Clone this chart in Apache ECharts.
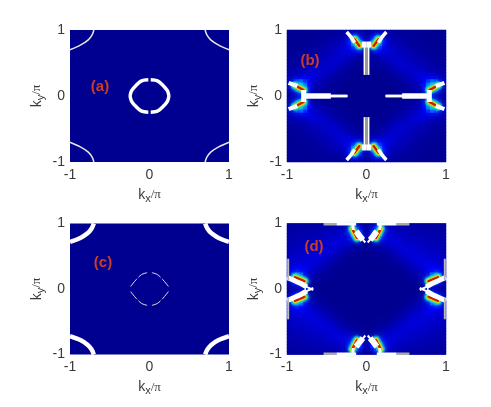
<!DOCTYPE html>
<html>
<head>
<meta charset="utf-8">
<style>html,body{margin:0;padding:0;background:#fff}#main{width:491px;height:407px}</style>
<script src="https://cdn.jsdelivr.net/npm/echarts@6/dist/echarts.min.js"></script>
</head>
<body>
<div id="main"></div>
<script>
const tickValues = [-1, 0, 1]
const cellCenters = [0.025, 0.075, 0.125, 0.175, 0.225, 0.275, 0.325, 0.375, 0.425, 0.475, 0.525, 0.575, 0.625, 0.675, 0.725, 0.775, 0.825, 0.875, 0.925, 0.975]
const panelLabels = ['(a)', '(b)', '(c)', '(d)']

// upper right quadrant, rows from ky=1 down to ky=0, columns from kx=0 to kx=1
const glowB = [
  [3,5,8,8,6,4,3,3,2,2,2,1,1,1,1,1,1,1,1,1],
  [4,10,17,16,9,6,4,3,3,2,2,2,1,1,1,1,1,1,1,1],
  [6,18,27,25,15,8,6,5,4,3,3,2,2,1,1,1,1,1,1,1],
  [8,24,32,30,20,11,8,6,5,4,3,3,2,2,1,1,1,1,1,1],
  [10,24,31,27,20,13,10,7,6,5,4,3,3,2,2,1,1,1,1,1],
  [7,18,24,22,18,14,11,9,7,6,5,4,3,3,2,2,1,1,1,1],
  [5,11,16,17,15,13,12,10,8,7,6,5,4,3,3,2,2,1,1,1],
  [3,6,9,11,12,12,12,11,9,8,7,6,5,4,3,3,2,2,1,1],
  [2,3,5,7,9,10,11,11,10,9,8,7,6,5,4,3,3,2,2,1],
  [1,2,3,4,6,8,10,11,11,10,9,8,7,6,5,4,3,3,2,2],
  [1,1,2,3,4,6,8,10,11,11,10,9,8,7,6,5,4,3,3,2],
  [0,1,1,2,3,4,6,8,10,11,11,10,9,9,8,6,5,4,4,3],
  [0,0,1,1,2,3,4,6,8,9,11,11,11,11,10,8,6,6,5,4],
  [0,0,0,1,1,2,3,4,6,7,9,11,12,13,13,12,11,9,7,5],
  [0,0,0,0,1,1,2,3,4,5,7,9,11,14,16,17,17,14,10,7],
  [0,0,0,0,0,1,1,2,3,4,5,7,9,12,17,23,27,24,15,9],
  [0,0,0,0,0,0,1,1,2,3,4,5,7,10,18,28,33,30,22,10],
  [0,0,0,0,0,0,0,1,1,2,3,4,5,8,18,28,33,30,20,8],
  [0,0,0,0,0,0,0,0,1,1,2,2,3,5,12,20,26,24,12,5],
  [0,0,0,0,0,0,0,0,0,1,1,1,2,3,6,10,15,13,8,4]
]
const glowD = [
  [3,6,10,10,8,6,5,5,4,4,4,4,3,3,3,3,3,3,3,3],
  [5,14,22,20,12,9,8,7,6,6,5,5,5,4,4,4,4,4,3,3],
  [6,22,31,29,18,12,10,9,8,7,7,6,6,5,5,5,4,4,4,4],
  [6,20,30,28,19,13,12,10,9,9,8,7,7,6,6,5,5,5,4,4],
  [4,13,20,20,16,14,13,12,11,10,9,8,8,7,7,6,6,5,5,5],
  [3,6,10,12,12,13,13,13,12,11,10,9,9,8,8,7,7,6,6,5],
  [2,3,5,7,9,11,12,13,13,12,11,11,10,9,9,8,7,7,6,6],
  [1,2,3,4,6,8,10,11,12,13,12,12,11,10,10,9,8,8,7,6],
  [1,1,2,3,4,5,7,9,11,12,13,13,12,11,11,10,9,9,8,7],
  [0,1,1,2,2,3,5,7,9,11,12,13,13,12,12,11,10,10,9,7],
  [0,0,1,1,1,2,3,5,7,9,11,12,13,13,13,12,11,11,10,8],
  [0,0,0,1,1,1,2,3,5,7,9,11,12,13,14,13,13,12,11,9],
  [0,0,0,0,0,1,1,2,3,5,7,9,11,12,14,15,15,14,13,10],
  [0,0,0,0,0,0,1,1,2,3,5,7,9,11,13,16,18,17,15,11],
  [0,0,0,0,0,0,0,1,1,2,3,5,7,9,12,16,20,21,18,12],
  [0,0,0,0,0,0,0,0,1,1,2,3,5,7,10,16,26,28,23,12],
  [0,0,0,0,0,0,0,0,0,1,1,2,3,5,9,19,30,32,26,12],
  [0,0,0,0,0,0,0,0,0,0,1,1,2,4,7,16,28,30,24,10],
  [0,0,0,0,0,0,0,0,0,0,0,1,1,2,4,9,18,20,14,6],
  [0,0,0,0,0,0,0,0,0,0,0,0,1,1,2,4,8,9,6,3]
]

// Fermi arcs, one quadrant each, mirrored into the other three
const cornerArcA = [[0.70,1],[0.72,0.93],[0.77,0.85],[0.87,0.77],[1,0.70]]
const ringA = [[0.015,0.245],[0.1,0.23],[0.17,0.16],[0.225,0.08],[0.245,0]]
const cornerArcC = [[0.70,1],[0.73,0.92],[0.78,0.85],[0.87,0.78],[1,0.72]]
const ringC = [[0.03,0.25],[0.1,0.22],[0.17,0.14],[0.25,0.02]]

const barB = [[0.024,0.32],[0.024,0.8]]
const barCoreB = [[0,0.32],[0,0.8]]
const capB = [[0,0.78],[0.06,0.78]]
const armTopB = [[0.15,0.81],[0.2,0.9],[0.25,0.97]]
const stemThinB = [[0.24,0],[0.5,0]]
const stemThickB = [[0.45,0],[0.79,0]]
const armSideB = [[0.79,0],[0.79,0.09]]
const armRightB = [[0.87,0.15],[0.98,0.2]]
const streakTopB = [[0.09,0.76],[0.15,0.86]]
const streakSideB = [[0.79,0.09],[0.9,0.16]]

const tipTopD = [[0.015,0.71],[0.05,0.76]]
const wedgeTopD = [[0.045,0.75],[0.08,0.8],[0.13,0.88]]
const tipSideD = [[0.67,-0.015],[0.76,0.035]]
const wedgeSideD = [[0.75,0.03],[0.84,0.09],[0.93,0.14],[1,0.18]]
const tickTopD = [[0.17,0.9],[0.17,1]]
const edgeTopD = [[0.13,0.99],[0.38,0.99]]
const edgeGrayD = [[0.38,0.99],[0.54,0.99]]
const edgeSideD = [[0.985,0.13],[0.985,0.46]]
const streakTopD = [[0.12,0.78],[0.18,0.92]]
const streakSideD = [[0.78,0.12],[0.9,0.18]]

const grids = [
  { left: 70, top: 30, width: 159, height: 132 },
  { left: 287, top: 30, width: 159, height: 132 },
  { left: 70, top: 223.5, width: 159, height: 131 },
  { left: 287, top: 223.5, width: 159, height: 131 }
]
const labelPos = [[100, 87], [310, 61], [103, 263], [314, 247]]

const allCells = [...cellCenters].reverse().map(v => -v).concat(cellCenters)
const darkBlue = '#000090'
const tickFont = { color: '#3a3a3a', fontSize: 14, fontFamily: 'Liberation Sans' }

function nameRich() {
  return {
    k: { fontSize: 14, fontFamily: 'Liberation Sans', color: '#3a3a3a' },
    s: { fontSize: 11, fontFamily: 'Liberation Sans', color: '#3a3a3a', padding: [7, 0, 0, 0] },
    p: { fontSize: 13, fontFamily: 'Liberation Serif', color: '#3a3a3a' }
  }
}

const xAxis = grids.map((g, i) => ({
  type: 'value', gridIndex: i, min: -1, max: 1, interval: 1, position: 'bottom',
  name: '{k|k}{s|x}{p|/π}', nameLocation: 'middle', nameGap: 24,
  nameTextStyle: { rich: nameRich() },
  axisLine: { show: false }, axisTick: { show: false }, splitLine: { show: false },
  axisLabel: { ...tickFont, margin: 6, customValues: tickValues }
}))
const yAxis = grids.map((g, i) => ({
  type: 'value', gridIndex: i, min: -1, max: 1, interval: 1, position: 'left',
  name: '{k|k}{s|y}{p|/π}', nameLocation: 'middle', nameGap: 24, nameRotate: 90,
  nameTextStyle: { rich: nameRich() },
  axisLine: { show: false }, axisTick: { show: false }, splitLine: { show: false },
  axisLabel: { ...tickFont, margin: 5, customValues: tickValues }
}))

const series = []

function addGlow(rows, gridIndex) {
  const xi = xAxis.length
  xAxis.push({ type: 'category', gridIndex, data: allCells, show: false })
  yAxis.push({ type: 'category', gridIndex, data: allCells, show: false })
  const data = []
  rows.forEach((row, r) => {
    row.forEach((v, c) => {
      data.push([20 + c, 39 - r, v], [19 - c, 39 - r, v], [20 + c, r, v], [19 - c, r, v])
    })
  })
  series.push({
    type: 'heatmap', xAxisIndex: xi, yAxisIndex: xi, data, z: 1, silent: true,
    itemStyle: { borderWidth: 0 }, progressive: 0, animation: false
  })
}

function addStroke(path, gridIndex, color, width, blur, dash) {
  const flips = [[1, 1], [-1, 1], [1, -1], [-1, -1]]
  flips.forEach(([fx, fy]) => {
    series.push({
      type: 'line', xAxisIndex: gridIndex, yAxisIndex: gridIndex, z: 3, silent: true,
      symbol: 'none', smooth: 0.3, animation: false,
      data: path.map(([x, y]) => [x * fx, y * fy]),
      lineStyle: {
        color, width, cap: blur ? 'round' : 'butt', type: dash || 'solid',
        shadowBlur: blur || 0, shadowColor: blur ? color : 'transparent'
      }
    })
  })
}

// soft jet-coloured halo around a hot streak
function addHot(path, gridIndex) {
  addStroke(path, gridIndex, 'rgba(0,200,255,0.55)', 9, 9)
  addStroke(path, gridIndex, '#20e0b0', 6, 4)
  addStroke(path, gridIndex, '#f0e000', 4, 2)
  addStroke(path, gridIndex, '#c81e00', 2, 1)
}

addGlow(glowB, 1)
addGlow(glowD, 3)
const glowSeries = [0, 1]

addStroke(cornerArcA, 0, '#e6e6e6', 1.5)
addStroke(ringA, 0, '#fff', 3.5)

addHot(streakTopB, 1)
addHot(streakSideB, 1)
addStroke(barB, 1, '#fff', 2)
addStroke(barCoreB, 1, '#999', 1.5)
addStroke(capB, 1, '#fff', 6)
addStroke(armTopB, 1, '#fff', 3.5)
addStroke(stemThinB, 1, '#fff', 2.5)
addStroke(stemThickB, 1, '#fff', 5)
addStroke(armSideB, 1, '#fff', 5)
addStroke(armRightB, 1, '#fff', 4)

addStroke(cornerArcC, 2, '#fff', 4.5)
addStroke(ringC, 2, '#ddd', 1, 0, [10, 2])

addHot(streakTopD, 3)
addHot(streakSideD, 3)
addStroke(tipTopD, 3, '#fff', 2)
addStroke(wedgeTopD, 3, '#fff', 6)
addStroke(tipSideD, 3, '#fff', 2)
addStroke(wedgeSideD, 3, '#fff', 5)
addStroke(tickTopD, 3, '#fff', 3)
addStroke(edgeTopD, 3, '#fff', 2.5)
addStroke(edgeGrayD, 3, '#aaa', 2.5)
addStroke(edgeSideD, 3, '#bbb', 2)

const chart = echarts.init(document.getElementById('main'), null, { renderer: 'canvas' })
chart.setOption({
  animation: false,
  backgroundColor: '#fff',
  grid: grids.map(g => ({ ...g, show: true, backgroundColor: darkBlue, borderWidth: 0 })),
  xAxis,
  yAxis,
  visualMap: {
    show: false, min: 0, max: 100, seriesIndex: glowSeries, dimension: 2,
    inRange: { color: [darkBlue, '#0000ff', '#00ffff', '#ffff00', '#ff0000', '#800000'] }
  },
  series,
  graphic: panelLabels.map((t, i) => ({
    type: 'text', x: labelPos[i][0], y: labelPos[i][1], z: 10, silent: true,
    style: {
      text: t, align: 'center', verticalAlign: 'middle', fill: '#c83c28',
      font: 'bold 15px "Liberation Sans"'
    }
  }))
})
</script>
</body>
</html>
